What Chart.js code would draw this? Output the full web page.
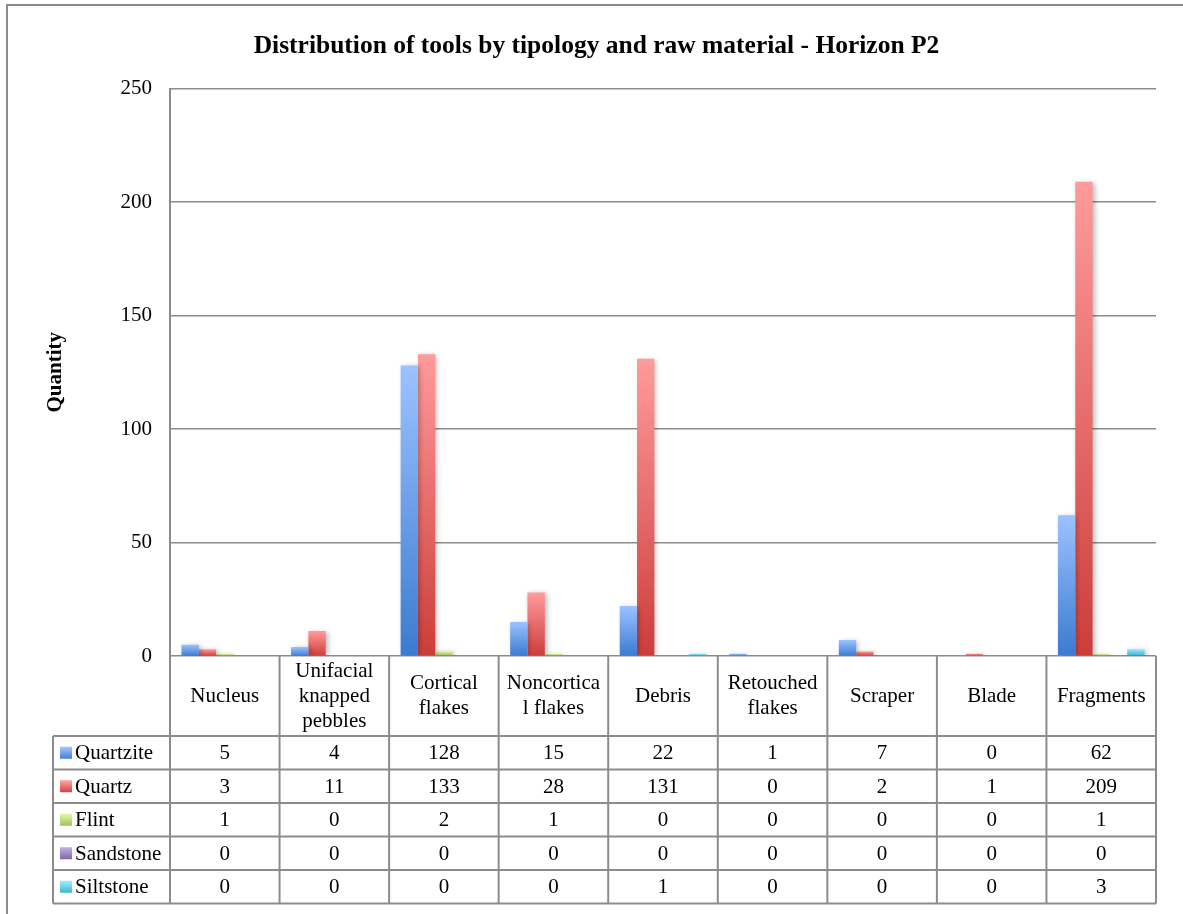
<!DOCTYPE html>
<html><head><meta charset="utf-8">
<script src="https://cdn.jsdelivr.net/npm/chart.js@4/dist/chart.umd.min.js"></script>
<style>html,body{margin:0;padding:0;background:#fff}canvas{display:block}</style>
</head><body>
<canvas id="c" width="1183" height="914"></canvas>
<script>
const categories = [["Nucleus"],["Unifacial","knapped","pebbles"],["Cortical","flakes"],["Noncortica","l flakes"],["Debris"],["Retouched","flakes"],["Scraper"],["Blade"],["Fragments"]];
const seriesNames = ["Quartzite","Quartz","Flint","Sandstone","Siltstone"];
const quartzite = [5,4,128,15,22,1,7,0,62];
const quartz    = [3,11,133,28,131,0,2,1,209];
const flint     = [1,0,2,1,0,0,0,0,1];
const sandstone = [0,0,0,0,0,0,0,0,0];
const siltstone = [0,0,0,0,1,0,0,0,3];
const yTicks = [0,50,100,150,200,250];
const seriesValues = [quartzite, quartz, flint, sandstone, siltstone];
const gradColors = [["#9CC2FF","#3A7BD0"],["#FF9B9B","#CC3D3A"],["#DCF7A2","#9BBB57"],["#BCAAE0","#7E61A0"],["#92EBFB","#3DAFCB"]];

const FONT = "'Liberation Serif', 'Times New Roman', serif";
const LINE = "#8c8c8c";

function grad(i){
  return (ctx) => {
    const ch = ctx.chart, ca = ch.chartArea;
    if (!ca || ctx.type !== 'data') return gradColors[i][1];
    const y = ch.scales.y;
    const top = y.getPixelForValue(ctx.raw), bot = y.getPixelForValue(0);
    if (bot - top < 1) return gradColors[i][0];
    const g = ch.ctx.createLinearGradient(0, top, 0, bot);
    g.addColorStop(0, gradColors[i][0]);
    g.addColorStop(1, gradColors[i][1]);
    return g;
  };
}

const shadowPlugin = {
  id: 'shadow',
  beforeDatasetsDraw(chart){
    const c = chart.ctx; c.save();
    c.shadowColor = 'rgba(0,0,0,0.28)'; c.shadowBlur = 5; c.shadowOffsetX = 2; c.shadowOffsetY = 1;
  },
  afterDatasetsDraw(chart){ chart.ctx.restore(); }
};

const framePlugin = {
  id: 'frame',
  beforeDraw(chart){
    const c = chart.ctx; c.save();
    c.strokeStyle = LINE; c.lineWidth = 2;
    c.strokeRect(7, 5, 1300, 1100);
    c.restore();
  }
};

const tablePlugin = {
  id: 'datatable',
  afterDraw(chart){
    const c = chart.ctx, x = chart.scales.x, ca = chart.chartArea;
    const n = categories.length;
    const cw = (x.right - x.left) / n;
    const top = ca.bottom, headH = 80, rowH = 33.5, legL = 53;
    const rowsTop = top + headH, bottom = rowsTop + rowH * seriesNames.length;
    c.save();
    c.strokeStyle = LINE; c.lineWidth = 2;
    c.beginPath();
    for (let i = 0; i <= n; i++) {
      const xx = x.left + i * cw;
      c.moveTo(xx, top); c.lineTo(xx, bottom);
    }
    c.moveTo(legL, rowsTop); c.lineTo(legL, bottom);
    for (let r = 0; r <= seriesNames.length; r++) {
      const yy = rowsTop + r * rowH;
      c.moveTo(legL, yy); c.lineTo(x.right, yy);
    }
    c.stroke();
    c.fillStyle = '#000';
    c.font = "21px " + FONT;
    c.textAlign = 'center'; c.textBaseline = 'middle';
    const hc = top + headH / 2;
    categories.forEach((lab, i) => {
      const cx = x.getPixelForValue(i);
      lab.forEach((t, j) => c.fillText(t, cx, hc + (j - (lab.length - 1) / 2) * 25));
    });
    seriesValues.forEach((vals, r) => {
      const cy = rowsTop + r * rowH + rowH / 2 + 1;
      vals.forEach((v, i) => c.fillText(String(v), x.getPixelForValue(i), cy));
      const g = c.createLinearGradient(0, cy - 6, 0, cy + 6);
      g.addColorStop(0, gradColors[r][0]); g.addColorStop(1, gradColors[r][1]);
      c.fillStyle = g; c.fillRect(60, cy - 7, 12, 12);
      c.fillStyle = '#000'; c.textAlign = 'left';
      c.fillText(seriesNames[r], 75, cy);
      c.textAlign = 'center';
    });
    c.restore();
  }
};

new Chart(document.getElementById('c'), {
  type: 'bar',
  data: {
    labels: categories,
    datasets: seriesNames.map((name, i) => ({
      label: name,
      data: seriesValues[i],
      backgroundColor: grad(i),
      borderWidth: 0,
      barPercentage: 1,
      categoryPercentage: 0.79
    }))
  },
  options: {
    responsive: false,
    animation: false,
    devicePixelRatio: 1,
    layout: { padding: { left: 10, right: 0, top: 0, bottom: 0 } },
    plugins: {
      legend: { display: false },
      tooltip: { enabled: false },
      title: {
        display: true,
        text: 'Distribution of tools by tipology and raw material - Horizon P2',
        color: '#000',
        font: { family: FONT, size: 25.5, weight: 'bold' },
        padding: { top: 31, bottom: 27 }
      }
    },
    scales: {
      x: {
        ticks: { display: false },
        grid: { display: false },
        border: { display: false },
        afterFit(s){ s.height = 258; }
      },
      y: {
        min: 0, max: 250,
        afterBuildTicks(s){ s.ticks = yTicks.map(v => ({ value: v })); },
        ticks: { color: '#000', font: { family: FONT, size: 21 }, padding: 18 },
        grid: { color: LINE, lineWidth: 1.6, drawTicks: false },
        border: { display: true, color: LINE, width: 2 },
        title: {
          display: true, text: 'Quantity', color: '#000',
          font: { family: FONT, size: 21, weight: 'bold' },
          padding: { top: 33, bottom: 0 }
        },
        afterFit(s){ s.width = 160; }
      },
      yRight: {
        position: 'right',
        display: true,
        ticks: { display: false },
        grid: { display: false },
        border: { display: false },
        afterFit(s){ s.width = 27; }
      }
    }
  },
  plugins: [framePlugin, shadowPlugin, tablePlugin]
});
</script>
</body></html>
